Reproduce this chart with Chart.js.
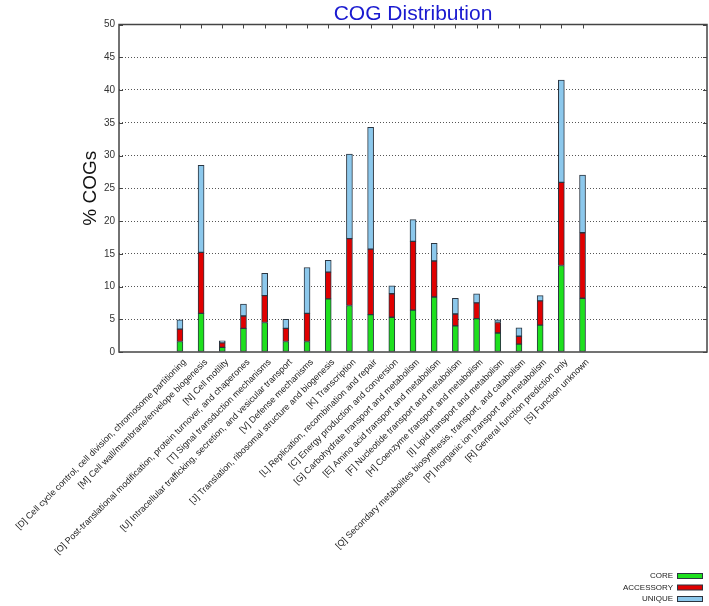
<!DOCTYPE html>
<html>
<head>
<meta charset="utf-8">
<script src="https://cdn.jsdelivr.net/npm/chart.js@4/dist/chart.umd.min.js"></script>
<style>
    html, body { margin: 0; padding: 0; background: #fff; }
    #wrap { width: 709px; height: 606px; }
</style>
</head>
<body>
<div id="wrap"><canvas id="cog"></canvas></div>
<script>
const categorias = [
    '[D] Cell cycle control, cell division, chromosome partitioning',
    '[M] Cell wall/membrane/envelope biogenesis',
    '[N] Cell motility',
    '[O] Post-translational modification, protein turnover, and chaperones',
    '[T] Signal transduction mechanisms',
    '[U] Intracellular trafficking, secretion, and vesicular transport',
    '[V] Defense mechanisms',
    '[J] Translation, ribosomal structure and biogenesis',
    '[K] Transcription',
    '[L] Replication, recombination and repair',
    '[C] Energy production and conversion',
    '[G] Carbohydrate transport and metabolism',
    '[E] Amino acid transport and metabolism',
    '[F] Nucleotide transport and metabolism',
    '[H] Coenzyme transport and metabolism',
    '[I] Lipid transport and metabolism',
    '[Q] Secondary metabolites biosynthesis, transport, and catabolism',
    '[P] Inorganic ion transport and metabolism',
    '[R] General function prediction only',
    '[S] Function unknown'
];

const core      = [1.6, 5.9, 0.7, 3.6, 4.5, 1.6, 1.6, 8.1, 7.1, 5.7, 5.3, 6.4, 8.4, 4.0, 5.1, 2.9, 1.2, 4.1, 13.2, 8.2];
const accessory = [1.9, 9.3, 0.7, 1.9, 4.1, 2.0, 4.3, 4.1, 10.2, 10.0, 3.6, 10.5, 5.5, 1.8, 2.4, 1.6, 1.2, 3.7, 12.7, 10.0];
const unique    = [1.4, 13.3, 0.3, 1.8, 3.4, 1.4, 7.0, 1.8, 12.9, 18.6, 1.2, 3.3, 2.7, 2.4, 1.4, 0.4, 1.3, 0.8, 15.6, 8.8];

const yTicks = [0, 5, 10, 15, 20, 25, 30, 35, 40, 45, 50];

const corBorda = '#2b3540';

function pontos(valores) {
    return valores.map((v, i) => ({ x: i, y: v }));
}

// moldura, marcas internas e legenda no estilo gnuplot
const molduraPlugin = {
    id: 'moldura',
    afterDatasetsDraw(chart) {
        const { ctx, chartArea: a, scales } = chart;
        ctx.save();
        ctx.strokeStyle = '#444';
        ctx.lineWidth = 1;
        categorias.forEach((_, i) => {
            const x = Math.round(scales.x.getPixelForValue(i)) + 0.5;
            ctx.beginPath();
            ctx.moveTo(x, a.top);
            ctx.lineTo(x, a.top + 4);
            ctx.stroke();
        });
        yTicks.forEach(v => {
            const y = Math.round(scales.y.getPixelForValue(v)) + 0.5;
            ctx.beginPath();
            ctx.moveTo(a.left, y);
            ctx.lineTo(a.left + 4, y);
            ctx.moveTo(a.right, y);
            ctx.lineTo(a.right - 4, y);
            ctx.stroke();
        });
        ctx.lineWidth = 1.5;
        ctx.strokeRect(a.left, a.top, a.right - a.left, a.bottom - a.top);

        // legenda
        ctx.font = '8px "Liberation Sans", Arial, sans-serif';
        ctx.textAlign = 'right';
        ctx.textBaseline = 'middle';
        ctx.lineWidth = 1;
        chart.data.datasets.forEach((ds, i) => {
            const y = 576 + i * 11.5;
            ctx.fillStyle = '#222';
            ctx.fillText(ds.label, 673, y);
            ctx.fillStyle = ds.backgroundColor;
            ctx.fillRect(677.5, y - 2.5, 25, 5);
            ctx.strokeStyle = corBorda;
            ctx.strokeRect(677.5, y - 2.5, 25, 5);
        });
        ctx.restore();
    }
};

const ctx = document.getElementById('cog').getContext('2d');

new Chart(ctx, {
    type: 'bar',
    data: {
        datasets: [
            { label: 'CORE', data: pontos(core), backgroundColor: '#1ee01e' },
            { label: 'ACCESSORY', data: pontos(accessory), backgroundColor: '#e00000' },
            { label: 'UNIQUE', data: pontos(unique), backgroundColor: '#8cc8ec' }
        ].map(ds => ({
            ...ds,
            borderColor: corBorda,
            borderWidth: 1,
            borderSkipped: false,
            barThickness: 6
        }))
    },
    options: {
        responsive: true,
        maintainAspectRatio: false,
        animation: false,
        layout: {
            padding: { left: 75, right: 2, top: 0, bottom: 0 }
        },
        plugins: {
            legend: { display: false },
            tooltip: { enabled: false },
            title: {
                display: true,
                fullSize: false,
                text: 'COG Distribution',
                color: '#1a1ad0',
                font: { family: '"Liberation Sans", Arial, sans-serif', size: 21, weight: 'normal', lineHeight: 1.0 },
                padding: { top: 3.5, bottom: 0 }
            }
        },
        scales: {
            x: {
                type: 'linear',
                stacked: true,
                min: -2.18,
                max: 24.18,
                grid: { display: false },
                border: { display: false },
                afterBuildTicks: scale => {
                    scale.ticks = categorias.map((_, i) => ({ value: i }));
                },
                afterFit: scale => {
                    scale.height = 254;
                    scale.paddingLeft = 0;
                    scale.paddingRight = 0;
                },
                ticks: {
                    autoSkip: false,
                    minRotation: 45,
                    maxRotation: 45,
                    padding: -3,
                    labelOffset: 5,
                    color: '#222',
                    font: { family: '"Liberation Sans", Arial, sans-serif', size: 9 },
                    callback: v => categorias[v] ?? ''
                }
            },
            y: {
                stacked: true,
                min: 0,
                max: 50,
                border: { display: false, dash: [1, 2] },
                afterFit: scale => {
                    scale.width = 44;
                },
                grid: {
                    drawTicks: false,
                    borderDash: [1, 2],
                    color: ctx => (ctx.tick && (ctx.tick.value === 0 || ctx.tick.value === 50)) ? 'rgba(0,0,0,0)' : '#555',
                    lineWidth: 1
                },
                ticks: {
                    stepSize: 5,
                    padding: 4,
                    color: '#333',
                    font: { family: '"Liberation Sans", Arial, sans-serif', size: 10 }
                },
                title: {
                    display: true,
                    text: '% COGs',
                    color: '#111',
                    font: { family: '"Liberation Sans", Arial, sans-serif', size: 19 },
                    padding: { top: 4, bottom: 0 }
                }
            }
        }
    },
    plugins: [molduraPlugin]
});
</script>
</body>
</html>
